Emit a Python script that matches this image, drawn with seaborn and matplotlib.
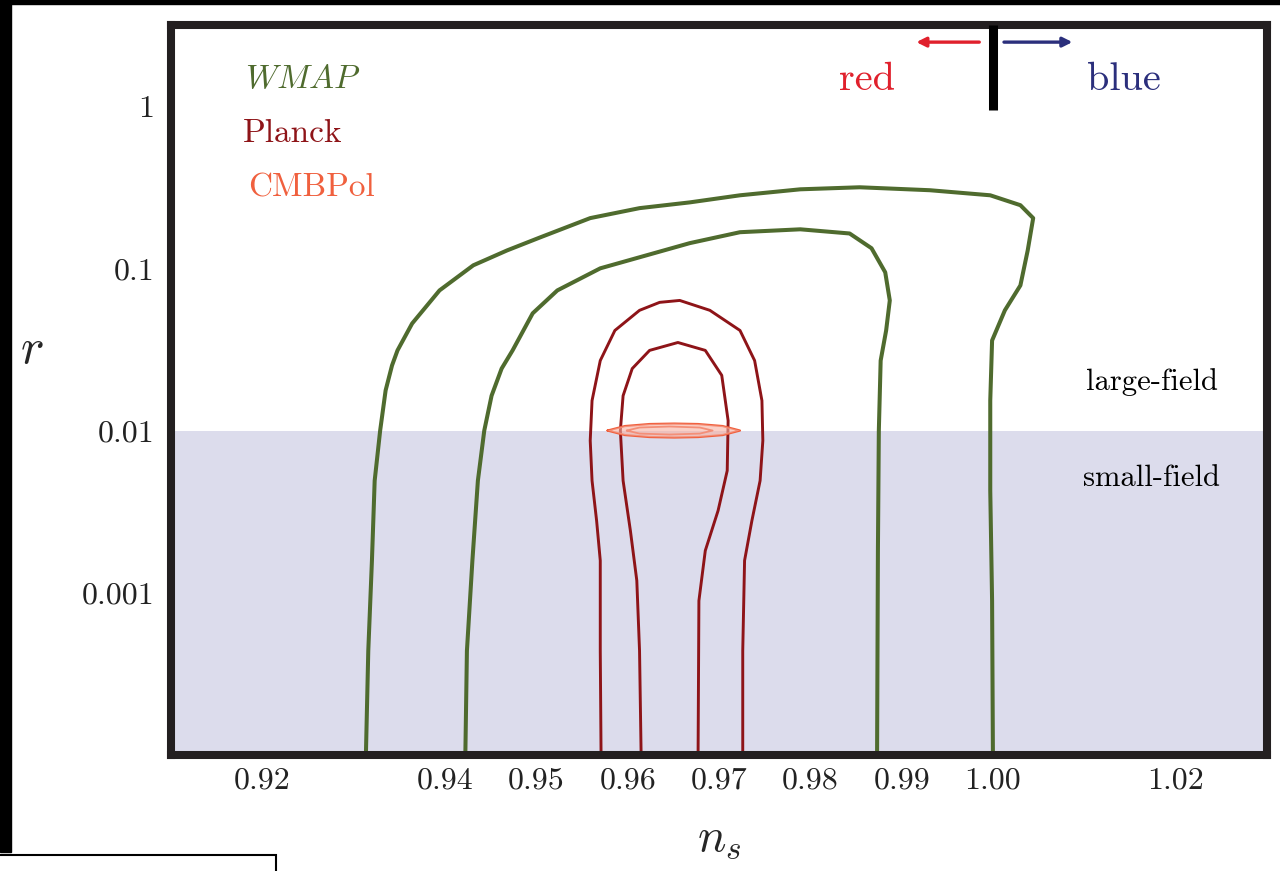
import matplotlib
matplotlib.use("Agg")
import matplotlib.pyplot as plt
from matplotlib.patches import Rectangle
import seaborn as sns

# WMAP contours (outer = 95%, inner = 68%)
wmap_out_ns = [0.9313, 0.9316, 0.9320, 0.9323, 0.9329, 0.9335, 0.9342, 0.9348, 0.9364, 0.9394,
               0.9431, 0.9468, 0.9504, 0.9559, 0.9613, 0.9668, 0.9723, 0.9789, 0.9854, 0.9931,
               0.9997, 1.0030, 1.0044, 1.0038, 1.0030, 1.0013, 0.9999, 0.9997, 0.9997, 0.9999, 1.0000]
wmap_out_r = [8e-5, 4.39e-4, 1.58e-3, 4.91e-3, 0.0100, 0.0177, 0.0252, 0.0312, 0.0457, 0.0731,
              0.1044, 0.129, 0.155, 0.204, 0.235, 0.255, 0.282, 0.307, 0.316, 0.303,
              0.282, 0.245, 0.204, 0.129, 0.0785, 0.0551, 0.0359, 0.0153, 4.26e-3, 8.93e-4, 8e-5]
wmap_in_ns = [0.9422, 0.9424, 0.9430, 0.9436, 0.9443, 0.9451, 0.9462, 0.9474, 0.9496, 0.9523,
              0.9570, 0.9613, 0.9668, 0.9723, 0.9789, 0.9843, 0.9867, 0.9882, 0.9887, 0.9883,
              0.9877, 0.9875, 0.9874, 0.9873]
wmap_in_r = [8e-5, 4.39e-4, 1.58e-3, 4.91e-3, 0.0100, 0.0164, 0.0241, 0.0312, 0.0528, 0.0731,
             0.100, 0.117, 0.143, 0.167, 0.174, 0.164, 0.133, 0.0945, 0.0634, 0.0414,
             0.0270, 0.0100, 1.82e-3, 8e-5]

# Planck forecast
planck_out_ns = [0.9571, 0.9570, 0.9570, 0.9566, 0.9561, 0.9559, 0.9561, 0.9570, 0.9586, 0.9613,
                 0.9635, 0.9657, 0.9690, 0.9723, 0.9739, 0.9747, 0.9748, 0.9745, 0.9736, 0.9728,
                 0.9726, 0.9726]
planck_out_r = [8e-5, 4.39e-4, 1.58e-3, 2.78e-3, 4.91e-3, 8.67e-3, 0.0153, 0.0270, 0.0414, 0.0551,
                0.0617, 0.0634, 0.0551, 0.0414, 0.0270, 0.0153, 8.67e-3, 4.91e-3, 2.78e-3, 1.58e-3,
                4.39e-4, 8e-5]
planck_in_ns = [0.9615, 0.9613, 0.9610, 0.9603, 0.9595, 0.9592, 0.9595, 0.9605, 0.9624, 0.9655,
                0.9685, 0.9703, 0.9710, 0.9709, 0.9699, 0.9685, 0.9678, 0.9677]
planck_in_r = [8e-5, 4.39e-4, 1.19e-3, 2.41e-3, 4.91e-3, 0.0100, 0.0164, 0.0241, 0.0312, 0.0349,
               0.0312, 0.0219, 0.0115, 5.66e-3, 3.21e-3, 1.82e-3, 8.93e-4, 8e-5]

# CMBPol forecast (closed ellipses around r = 0.01)
cmbpol_out_ns = [0.9578, 0.9597, 0.9624, 0.9651, 0.9677, 0.9704, 0.9723, 0.9704, 0.9677, 0.9651,
                 0.9624, 0.9597, 0.9578]
cmbpol_out_r = [0.0100, 0.01066, 0.01097, 0.01104, 0.01097, 0.01066, 0.0100, 9.38e-3, 9.12e-3,
                9.06e-3, 9.12e-3, 9.38e-3, 0.0100]
cmbpol_in_ns = [0.9599, 0.9613, 0.9646, 0.9679, 0.9693, 0.9679, 0.9646, 0.9613, 0.9599]
cmbpol_in_r = [0.0100, 0.01044, 0.01059, 0.01044, 0.0100, 9.58e-3, 9.45e-3, 9.58e-3, 0.0100]

xtick_vals = [0.92, 0.94, 0.95, 0.96, 0.97, 0.98, 0.99, 1.00, 1.02]
xtick_labels = ["0.92", "0.94", "0.95", "0.96", "0.97", "0.98", "0.99", "1.00", "1.02"]
ytick_vals = [1, 0.1, 0.01, 0.001]
ytick_labels = ["1", "0.1", "0.01", "0.001"]

green = "#4f6b2e"
darkred = "#8e1418"
orange = "#f0603e"

sns.set_style("white")
plt.rcParams["font.family"] = ["cmr10", "DejaVu Serif"]
plt.rcParams["mathtext.fontset"] = "cm"
plt.rcParams["axes.formatter.use_mathtext"] = True
plt.rcParams["lines.solid_joinstyle"] = "round"

fig = plt.figure(figsize=(12.8, 8.71), dpi=100)
ax = fig.add_axes([171 / 1280, 116 / 871, 1096 / 1280, 730 / 871])
ax.set_yscale("log")
ax.set_xlim(0.91, 1.03)
ax.set_ylim(1e-4, 10 ** 0.5)

# small-field region
ax.axhspan(1e-6, 0.01, color="#dcdcec", lw=0, zorder=0)

sns.lineplot(x=wmap_out_ns, y=wmap_out_r, sort=False, estimator=None, color=green, lw=2.9, ax=ax)
sns.lineplot(x=wmap_in_ns, y=wmap_in_r, sort=False, estimator=None, color=green, lw=2.9, ax=ax)
sns.lineplot(x=planck_out_ns, y=planck_out_r, sort=False, estimator=None, color=darkred, lw=2.1, ax=ax)
sns.lineplot(x=planck_in_ns, y=planck_in_r, sort=False, estimator=None, color=darkred, lw=2.1, ax=ax)
ax.fill(cmbpol_out_ns, cmbpol_out_r, color="#f7b0a0", alpha=0.6, lw=0, zorder=3)
sns.lineplot(x=cmbpol_out_ns, y=cmbpol_out_r, sort=False, estimator=None, color=orange, lw=1.6, ax=ax)
sns.lineplot(x=cmbpol_in_ns, y=cmbpol_in_r, sort=False, estimator=None, color=orange, lw=1.3, ax=ax)

# red / blue tilt indicator
ax.plot([1.0, 1.0], [0.94, 10 ** 0.5], color="black", lw=6.5, solid_capstyle="butt", zorder=5)
ax.annotate("", xy=(0.9913, 2.48), xytext=(0.9988, 2.48),
            arrowprops=dict(arrowstyle="-|>", color="#e0202c", lw=2.4, mutation_scale=14))
ax.annotate("", xy=(1.0090, 2.48), xytext=(1.0009, 2.48),
            arrowprops=dict(arrowstyle="-|>", color="#2b2f7c", lw=2.4, mutation_scale=14))
ax.text(0.635, 0.925, "red", transform=ax.transAxes, color="#e0202c", fontsize=29, ha="center", va="center")
ax.text(0.869, 0.925, "blue", transform=ax.transAxes, color="#2b2f7c", fontsize=29, ha="center", va="center")

ax.text(0.0675, 0.925, r"$WMAP$", transform=ax.transAxes, color=green, fontsize=24, ha="left", va="center")
ax.text(0.066, 0.852, "Planck", transform=ax.transAxes, color=darkred, fontsize=24, ha="left", va="center")
ax.text(0.0703, 0.777, "CMBPol", transform=ax.transAxes, color=orange, fontsize=24, ha="left", va="center")
ax.text(0.895, 0.511, "large-field", transform=ax.transAxes, color="black", fontsize=22, ha="center", va="center")
ax.text(0.895, 0.379, "small-field", transform=ax.transAxes, color="black", fontsize=22, ha="center", va="center")

ax.set_xticks(xtick_vals, xtick_labels)
ax.set_yticks(ytick_vals, ytick_labels)
ax.minorticks_off()
ax.tick_params(direction="in", length=5, width=2.4, color="#231f20", labelsize=23, labelcolor="#222222")
ax.tick_params(axis="x", pad=9)
ax.tick_params(axis="y", pad=12)
for s in ax.spines.values():
    s.set_linewidth(5.8)
    s.set_color("#231f20")
    s.set_visible(True)

ax.set_xlabel(r"$n_s$", fontsize=34, va="center")
ax.set_ylabel(r"$r$", fontsize=36, rotation=0, ha="center", va="center")
ax.xaxis.set_label_coords(0.5, -0.117)
ax.yaxis.set_label_coords(-0.127, 0.555)

# screenshot borders
fig.patches.append(Rectangle((0, 867 / 871), 1, 4 / 871, transform=fig.transFigure, color="black", zorder=10))
fig.patches.append(Rectangle((0, 19 / 871), 11 / 1280, 852 / 871, transform=fig.transFigure, color="black", zorder=10))
fig.patches.append(Rectangle((-0.01, -0.01), 276 / 1280 + 0.01, 16 / 871 + 0.01, transform=fig.transFigure,
                             facecolor="white", edgecolor="black", lw=1.5, zorder=10))

fig.savefig("out.png", dpi=100)
